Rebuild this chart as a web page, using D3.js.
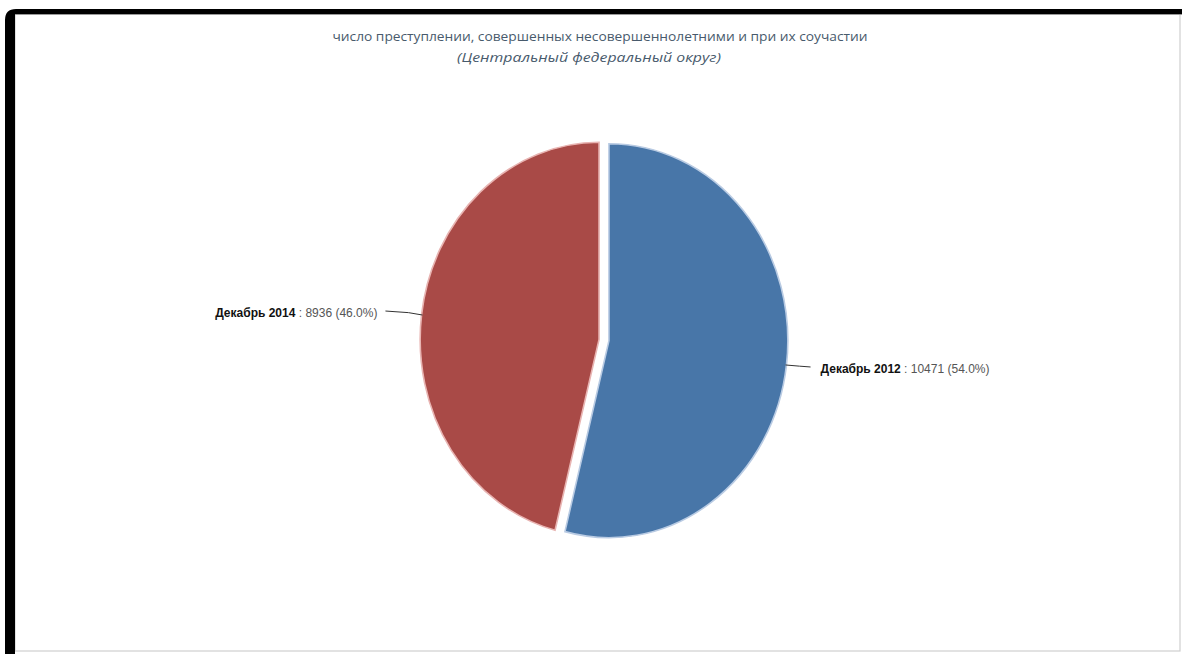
<!DOCTYPE html>
<html>
<head>
<meta charset="utf-8">
<script src="https://cdn.jsdelivr.net/npm/d3@7"></script>
<style>
  html, body { margin: 0; padding: 0; background: #ffffff; }
  svg { display: block; }
</style>
</head>
<body>
<svg id="chart" width="1182" height="654"></svg>
<script>
// Data
const categories = ["Декабрь 2012", "Декабрь 2014"];
const values = [10471, 8936];
const percentLabels = ["54.0%", "46.0%"];
const colors = ["#4876a8", "#a94a47"];
const edgeColors = ["#b9cbe3", "#e8b4b2"];
const titleText = "число преступлении, совершенных несовершеннолетними и при их соучастии";
const subtitleText = "(Центральный федеральный округ)";

const W = 1182, H = 654;
const svg = d3.select("#chart");

// Frame: light panel with a thick dark edge along the top and left
svg.append("rect")
  .attr("x", 15).attr("y", 14).attr("width", 1165).attr("height", 637)
  .attr("fill", "#fff").attr("stroke", "#cfcfcf").attr("stroke-width", 1.2);
svg.append("path")
  .attr("d", `M5,${H} L5,20 Q5,9 16,9 L${W},9 L${W},14 L15,14 L15,${H} Z`)
  .attr("fill", "#000");
svg.append("line")
  .attr("x1", 15).attr("x2", W).attr("y1", 14.5).attr("y2", 14.5)
  .attr("stroke", "#9a9a9a").attr("stroke-width", 1);

// Titles
svg.append("text")
  .attr("x", 600).attr("y", 41)
  .attr("text-anchor", "middle")
  .attr("font-family", "'Open Sans', sans-serif")
  .attr("font-size", 12)
  .attr("fill", "#485a6c")
  .attr("textLength", 535).attr("lengthAdjust", "spacingAndGlyphs")
  .text(titleText);
svg.append("text")
  .attr("x", 589).attr("y", 62)
  .attr("text-anchor", "middle")
  .attr("font-family", "'Open Sans', sans-serif")
  .attr("font-style", "italic")
  .attr("font-size", 12)
  .attr("fill", "#485a6c")
  .attr("textLength", 264).attr("lengthAdjust", "spacingAndGlyphs")
  .text(subtitleText);

// Pie geometry (drawn slightly narrower than tall)
const cx = 604, cy = 340, R = 197, sx = 0.908, sliceOffset = 5.5;

const pie = d3.pie().sort(null).value(d => d)
  .startAngle(0).endAngle(2 * Math.PI);
const arcs = pie(values);
const arc = d3.arc().innerRadius(0).outerRadius(R);

const g = svg.append("g")
  .attr("transform", `translate(${cx},${cy}) scale(${sx},1)`);

g.selectAll("path.slice")
  .data(arcs)
  .join("path")
  .attr("class", "slice")
  .attr("transform", d => {
    const a = (d.startAngle + d.endAngle) / 2;
    return `translate(${sliceOffset * Math.sin(a)},${-sliceOffset * Math.cos(a)})`;
  })
  .attr("d", arc)
  .attr("fill", (d, i) => colors[i])
  .attr("stroke", (d, i) => edgeColors[i])
  .attr("stroke-width", 1.6)
  .attr("vector-effect", "non-scaling-stroke");

// Data labels with connectors
const labelReach = [25, 37];
const textGap = [10, 8];
const labels = svg.append("g");
arcs.forEach((d, i) => {
  const a = (d.startAngle + d.endAngle) / 2;
  const ox = sliceOffset * Math.sin(a) * sx, oy = -sliceOffset * Math.cos(a);
  const ex = cx + ox + (R - 1) * Math.sin(a) * sx;
  const ey = cy + oy - (R - 1) * Math.cos(a);
  const side = Math.sin(a) >= 0 ? 1 : -1;
  const lx = ex + side * labelReach[i];
  const ly = ey + side * 2 - (side < 0 ? 2 : 0);
  const mx = ex + side * 14;
  labels.append("path")
    .attr("d", d3.line()([[ex, ey], [mx, ey + (ly - ey) * 0.6], [lx, ly]]))
    .attr("fill", "none")
    .attr("stroke", "#333")
    .attr("stroke-width", 1);
  const t = labels.append("text")
    .attr("x", lx + side * textGap[i])
    .attr("y", ly + 6)
    .attr("text-anchor", side > 0 ? "start" : "end")
    .attr("font-family", "'Liberation Sans', Arial, sans-serif")
    .attr("font-size", 12);
  t.append("tspan").attr("font-weight", "bold").attr("fill", "#111").text(categories[i]);
  t.append("tspan").attr("fill", "#555")
    .text(` : ${d3.format("d")(values[i])} (${percentLabels[i]})`);
});
</script>
</body>
</html>
